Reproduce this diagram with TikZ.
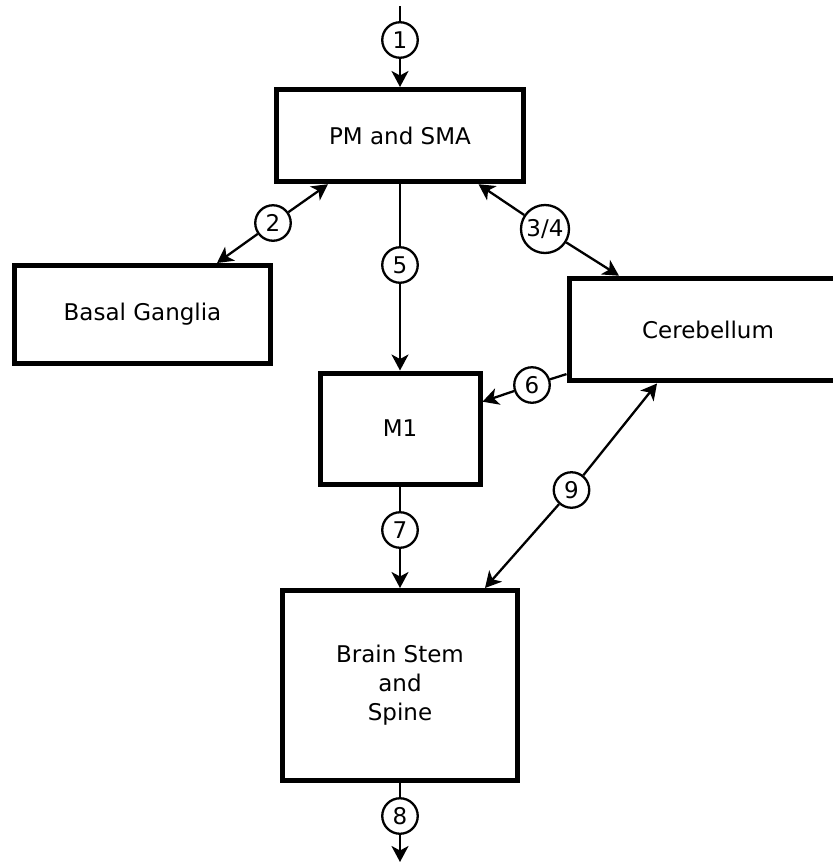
\documentclass[tikz,border=0pt]{standalone}
\usepackage{fontspec}
\setmainfont{DejaVu Sans}
\usepackage{tikz}
\usetikzlibrary{arrows.meta}
\tikzset{
  box/.style={draw, line width=5pt, rectangle, align=center},
  num/.style={draw, circle, line width=2.3pt, inner sep=1pt, minimum size=35.5pt},
  arr/.style={line width=2.3pt, -{Stealth[length=16pt,width=17pt,inset=4.5pt]}},
  con/.style={line width=2.3pt}
}

\begin{document}
\begin{tikzpicture}[x=1pt, y=-1pt, font=\fontsize{23}{29}\selectfont]
  \useasboundingbox (0,0) rectangle (833,863);
  % boxes
  \node[box, minimum width=246.5pt, minimum height=92.25pt] (pm) at (400,135.6) {PM and SMA};
  \node[box, minimum width=256pt, minimum height=98pt] (bg) at (142.5,314.5) {Basal Ganglia};
  \node[box, minimum width=278pt, minimum height=102.75pt] (cer) at (708,329.6) {Cerebellum};
  \node[box, minimum width=160pt, minimum height=111pt] (m1) at (400,428.5) {M1};
  \node[box, minimum width=235pt, minimum height=189.5pt] (bs) at (400,685.25) {Brain Stem\\and\\Spine};
  % numbered circles
  \node[num] (n1) at (400,40) {1};
  \node[num] (n2) at (273,223) {2};
  \node[num, minimum size=48pt] (n34) at (545,229) {3/4};
  \node[num] (n5) at (400,265) {5};
  \node[num] (n6) at (532,385) {6};
  \node[num] (n7) at (400,530) {7};
  \node[num] (n8) at (400,816) {8};
  \node[num] (n9) at (571.5,490) {9};
  \coordinate (in) at (400,6);
  \coordinate (out) at (400,862);
  % connectors
  \draw[con] (in) -- (n1);
  \draw[arr] (n1) -- (pm.north);
  \draw[arr] (n2) -- ([xshift=-72pt]pm.south);
  \draw[arr] (n2) -- ([xshift=74.5pt]bg.north);
  \draw[arr] (n34) -- ([xshift=78.5pt]pm.south);
  \draw[arr] (n34) -- ([xshift=-89pt]cer.north);
  \draw[con] (pm.south) -- (n5);
  \draw[arr] (n5) -- (m1.north);
  \draw[con] ([yshift=-44.5pt]cer.west) -- (n6);
  \draw[arr] (n6) -- ([yshift=26.8pt]m1.east);
  \draw[con] (m1.south) -- (n7);
  \draw[arr] (n7) -- (bs.north);
  \draw[arr] (n9) -- ([xshift=-51pt]cer.south);
  \draw[arr] (n9) -- ([xshift=85pt]bs.north);
  \draw[con] (bs.south) -- (n8);
  \draw[arr] (n8) -- (out);
\end{tikzpicture}
\end{document}
